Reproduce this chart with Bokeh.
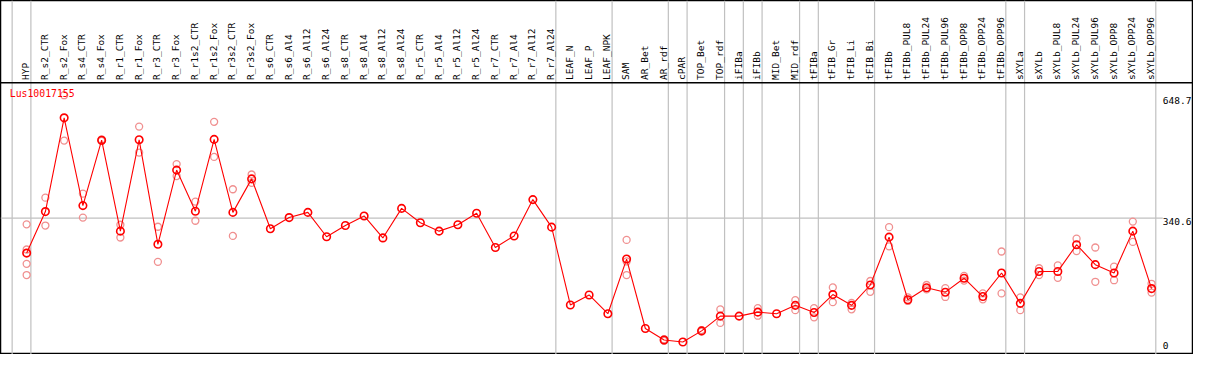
import math
from bokeh.plotting import figure
from bokeh.models import Range1d, Span, ColumnDataSource
from bokeh.core.properties import value
from bokeh.embed import file_html
from bokeh.resources import INLINE

nan = float("nan")

gene = "Lus10017155"

categories = [
    "HYP", "R_s2_CTR", "R_s2_Fox", "R_s4_CTR", "R_s4_Fox", "R_r1_CTR", "R_r1_Fox",
    "R_r3_CTR", "R_r3_Fox", "R_r1s2_CTR", "R_r1s2_Fox", "R_r3s2_CTR", "R_r3s2_Fox",
    "R_s6_CTR", "R_s6_Al4", "R_s6_Al12", "R_s6_Al24", "R_s8_CTR", "R_s8_Al4",
    "R_s8_Al12", "R_s8_Al24", "R_r5_CTR", "R_r5_Al4", "R_r5_Al12", "R_r5_Al24",
    "R_r7_CTR", "R_r7_Al4", "R_r7_Al12", "R_r7_Al24", "LEAF_N", "LEAF_P", "LEAF_NPK",
    "SAM", "AR_Bet", "AR_rdf", "cPAR", "TOP_Bet", "TOP_rdf", "iFIBa", "iFIBb",
    "MID_Bet", "MID_rdf", "tFIBa", "tFIB_Gr", "tFIB_Li", "tFIB_Bi", "tFIBb",
    "tFIBb_PUL8", "tFIBb_PUL24", "tFIBb_PUL96", "tFIBb_OPP8", "tFIBb_OPP24",
    "tFIBb_OPP96", "sXYLa", "sXYLb", "sXYLb_PUL8", "sXYLb_PUL24", "sXYLb_PUL96",
    "sXYLb_OPP8", "sXYLb_OPP24", "sXYLb_OPP96",
]

means = [
    253, 357, 592, 372, 536, 308, 537, 275, 461, 358, 538, 355, 439,
    314, 342, 355, 294, 322, 346, 291, 365, 329, 308, 324, 353, 267, 296, 387, 318,
    123, 148, 101, 238, 64, 35, 30, 58, 95, 95, 105, 101, 122, 104, 149, 122, 173,
    293, 136, 166, 155, 190, 144, 203, 127, 207, 207, 274, 224, 203, 308, 164,
]

rep_a = [
    325, 392, 648.7, 402, 538, 324, 570, 319, 476, 382, 582, 413, 450,
    nan, nan, nan, nan, nan, nan, nan, nan, nan, nan, nan, nan, nan, nan, nan, nan,
    nan, nan, nan, 286, nan, 37, nan, 60, 112, nan, 115, nan, 135, 115, 167, 128, 183,
    318, 142, 173, 165, 196, 152, 257, 142, 215, 222, 289, 267, 219, 332, 176,
]
rep_b = [
    262, 322, 535, 342, 534, 292, 505, 231, 446, 334, 494, 296, 429,
    nan, nan, nan, nan, nan, nan, nan, nan, nan, nan, nan, nan, nan, nan, nan, nan,
    nan, nan, nan, 232, nan, 33, nan, 56, 78, nan, 96, nan, 110, 92, 130, 112, 156,
    270, 133, 162, 143, 184, 137, 152, 110, 198, 191, 258, 181, 185, 281, 154,
]
rep_c = [226] + [nan] * 31 + [198] + [nan] * 28
rep_d = [198] + [nan] * 60

group_ends = [-1, 0, 28, 31, 34, 35, 37, 38, 39, 41, 42, 45, 52, 53, 60]

axis_ticks = [648.7, 340.6, 0]
axis_labels = ["648.7", "340.6", "0"]
mid_line = 340.6

# ---- layout (in data units of the ranges) ----
X0, X1 = -1.395, 62.237
Y0, Y1 = -1.2, 886.1
HEADER_Y = 679.9       # header separator
LABEL_BASE_Y = 687.0   # rotated labels start here
FONT = value("DejaVu Sans Mono")

p = figure(width=1193, height=354, output_backend="svg", toolbar_location=None,
           x_range=Range1d(X0, X1), y_range=Range1d(Y0, Y1),
           min_border=0, min_border_left=0, min_border_right=0,
           min_border_top=0, min_border_bottom=0)
p.axis.visible = False
p.grid.visible = False
p.outline_line_color = "black"
p.outline_line_width = 1.5
p.background_fill_color = "white"
p.border_fill_color = "white"

xs = list(range(len(categories)))

# vertical group separators
sep_x = [g + 0.226 for g in group_ends]
p.segment(x0=sep_x, x1=sep_x, y0=[Y0] * len(sep_x), y1=[Y1] * len(sep_x),
          line_color="#c0c0c0", line_width=1.2)

# mid horizontal line
p.segment(x0=[X0], x1=[60.6], y0=[mid_line], y1=[mid_line],
          line_color="#c0c0c0", line_width=1.2)

# header separator
p.add_layout(Span(location=HEADER_Y, dimension="width", line_color="black", line_width=1.5))

# rotated category labels
p.text(x=[x - 0.05 for x in xs], y=[LABEL_BASE_Y] * len(xs), text=categories,
       angle=math.pi / 2, text_align="left", text_baseline="middle",
       text_font=FONT, text_font_size="9.5px", text_color="black")

# replicate points
rep_x, rep_y = [], []
for reps in (rep_a, rep_b, rep_c, rep_d):
    for i, v in enumerate(reps):
        if not math.isnan(v):
            rep_x.append(i)
            rep_y.append(v)
p.scatter(rep_x, rep_y, marker="circle", size=7, fill_alpha=0,
          line_color="#f09090", line_width=1.3)

# mean line and points
p.line(xs, means, line_color="red", line_width=1.1)
p.scatter(xs, means, marker="circle", size=7.5, fill_alpha=0,
          line_color="red", line_width=1.6)

# gene name
p.text(x=[-0.9], y=[653], text=[gene], text_align="left", text_baseline="middle",
       text_font=FONT, text_font_size="9.8px", text_color="red")

# right axis labels
src = ColumnDataSource(dict(y=axis_ticks, t=axis_labels, off=[5, 3.4, -9]))
p.text(x=60.6, y="y", text="t", y_offset="off", source=src,
       text_align="left", text_baseline="middle",
       text_font=FONT, text_font_size="9.5px", text_color="black")

open("out.html", "w").write(file_html(p, INLINE))
